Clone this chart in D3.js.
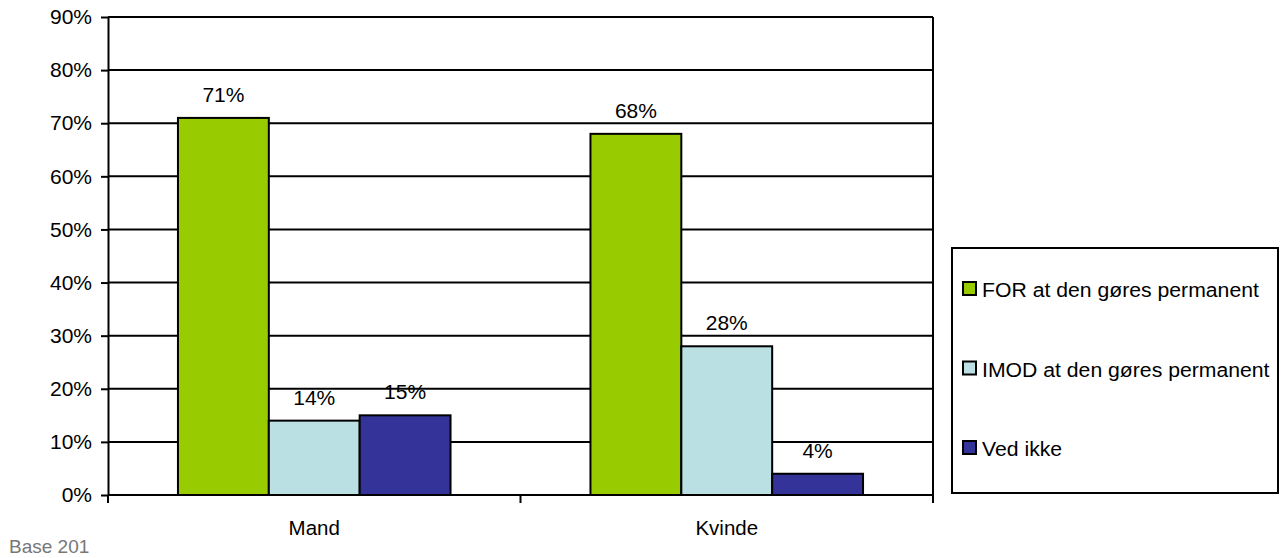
<!DOCTYPE html>
<html lang="en">
<head>
    <meta charset="UTF-8">
    <script src="https://d3js.org/d3.v7.min.js"></script>
    <style>
        body { margin: 0; background: #fff; }
        svg { display: block; font-family: "Liberation Sans", Arial, sans-serif; }
    </style>
</head>
<body>
    <div id="container"></div>
    <script type="text/javascript">

        // chart data
        const categories = ["Mand", "Kvinde"];
        const seriesNames = ["FOR at den gøres permanent", "IMOD at den gøres permanent", "Ved ikke"];
        const forValues = [71, 68];
        const imodValues = [14, 28];
        const vedIkkeValues = [15, 4];
        const yTicks = [0, 10, 20, 30, 40, 50, 60, 70, 80, 90];
        const colors = ["#99cc00", "#bbe0e3", "#333399"];
        const footnote = "Base 201";

        const seriesValues = [forValues, imodValues, vedIkkeValues];

        const w = 1288, h = 558;
        const margin = { left: 108, right: 355, top: 17, bottom: 63 };
        const fontSize = "21px";

        const svg = d3.select("#container")
            .append("svg")
            .attr("width", w)
            .attr("height", h);

        const xScale = d3.scaleBand()
            .domain(categories)
            .range([margin.left, w - margin.right]);

        const xInner = d3.scaleBand()
            .domain(seriesNames)
            .range([0, xScale.bandwidth()])
            .paddingOuter(0.77);

        const yScale = d3.scaleLinear()
            .domain([0, 90])
            .range([h - margin.bottom, margin.top]);

        // gridlines
        svg.append("g")
            .selectAll("line")
            .data(yTicks)
            .enter()
            .append("line")
            .attr("x1", margin.left)
            .attr("x2", w - margin.right)
            .attr("y1", d => yScale(d))
            .attr("y2", d => yScale(d))
            .attr("stroke", "#000")
            .attr("stroke-width", 2);

        // right border of plot area
        svg.append("line")
            .attr("x1", w - margin.right)
            .attr("x2", w - margin.right)
            .attr("y1", yScale(90))
            .attr("y2", yScale(0))
            .attr("stroke", "#000")
            .attr("stroke-width", 2);

        // bars
        const groups = svg.selectAll(".cat")
            .data(categories)
            .enter()
            .append("g")
            .attr("class", "cat")
            .attr("transform", d => "translate(" + xScale(d) + ",0)");

        groups.each(function (cat, ci) {
            const g = d3.select(this);
            seriesNames.forEach((s, si) => {
                const v = seriesValues[si][ci];
                g.append("rect")
                    .attr("x", xInner(s))
                    .attr("y", yScale(v))
                    .attr("width", xInner.bandwidth())
                    .attr("height", yScale(0) - yScale(v))
                    .attr("fill", colors[si])
                    .attr("stroke", "#000")
                    .attr("stroke-width", 2);
                g.append("text")
                    .attr("x", xInner(s) + xInner.bandwidth() / 2)
                    .attr("y", yScale(v) - 16)
                    .attr("text-anchor", "middle")
                    .style("font-size", fontSize)
                    .text(v + "%");
            });
        });

        // y axis
        const yAxis = d3.axisLeft(yScale)
            .tickValues(yTicks)
            .tickFormat(d => d + "%")
            .tickSize(7)
            .tickSizeOuter(0)
            .tickPadding(9);

        const yG = svg.append("g")
            .attr("transform", "translate(" + margin.left + ",0)")
            .call(yAxis);
        yG.selectAll("line, path").attr("stroke", "#000").attr("stroke-width", 2);
        yG.selectAll("text").style("font-size", fontSize).attr("fill", "#000")
            .style("font-family", "'Liberation Sans', Arial, sans-serif");

        // x axis (ticks at the category boundaries)
        const xAxisG = svg.append("g")
            .attr("transform", "translate(0," + yScale(0) + ")");
        xAxisG.append("line")
            .attr("x1", margin.left)
            .attr("x2", w - margin.right)
            .attr("stroke", "#000")
            .attr("stroke-width", 2);
        const bounds = categories.map(c => xScale(c)).concat([xScale.range()[1]]);
        xAxisG.selectAll(".xt")
            .data(bounds)
            .enter()
            .append("line")
            .attr("x1", d => d)
            .attr("x2", d => d)
            .attr("y1", 0)
            .attr("y2", 8)
            .attr("stroke", "#000")
            .attr("stroke-width", 2);
        xAxisG.selectAll(".xl")
            .data(categories)
            .enter()
            .append("text")
            .attr("x", d => xScale(d) + xScale.bandwidth() / 2)
            .attr("y", 40)
            .attr("text-anchor", "middle")
            .style("font-size", "20.5px")
            .text(d => d);

        // legend
        const legend = svg.append("g");
        legend.append("rect")
            .attr("x", 952)
            .attr("y", 248)
            .attr("width", 326)
            .attr("height", 245)
            .attr("fill", "#fff")
            .attr("stroke", "#000")
            .attr("stroke-width", 2);

        const legendY = d3.scalePoint()
            .domain(seriesNames)
            .range([289, 448]);

        const legendTexts = [];
        seriesNames.forEach((s, i) => {
            legend.append("rect")
                .attr("x", 963)
                .attr("y", legendY(s) - 7)
                .attr("width", 13)
                .attr("height", 13)
                .attr("fill", colors[i])
                .attr("stroke", "#000")
                .attr("stroke-width", 2);
            legendTexts.push(legend.append("text")
                .attr("y", legendY(s) + 8)
                .style("font-size", "21px")
                .text(s));
        });

        // legend text is drawn a bit wider in the original: stretch so the first label spans ~277px
        const stretch = 277 / legendTexts[0].node().getComputedTextLength();
        legendTexts.forEach(t => {
            const y = +t.attr("y");
            t.attr("y", null)
                .attr("transform", "translate(982," + y + ") scale(" + stretch + ",1)");
        });

        // footnote
        svg.append("text")
            .attr("x", 9)
            .attr("y", 553)
            .attr("fill", "#777")
            .style("font-size", "19px")
            .text(footnote);

    </script>
</body>
</html>
